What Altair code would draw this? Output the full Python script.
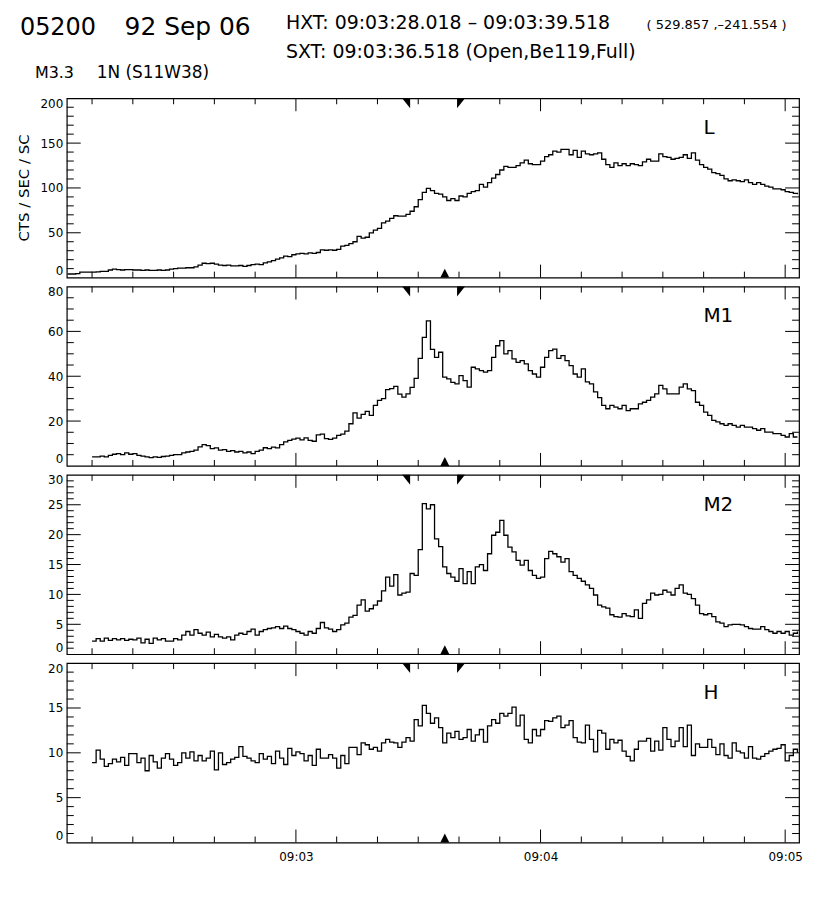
import altair as alt
import pandas as pd

# ---------------- data (seconds after 09:02:00, 1 s bins) ----------------
START_L = 4
START = 10

L_COUNTS = [
    4, 4, 4.5, 6, 6, 6, 6, 6.5, 7, 7,
    8.5, 9.4, 9, 8.5, 9, 9, 8.5, 8.5, 8, 8.5,
    8, 8, 8.5, 8, 8.5, 9.5, 10, 10.5, 10.5, 11,
    11, 12, 14, 16, 15.5, 16, 15, 14, 13.5, 14,
    13, 13, 13.5, 12.5, 13.5, 14.5, 15, 14.5, 16.5, 17.5,
    19, 20.5, 22, 24, 23.5, 25.5, 26.5, 27, 26.5, 27.5,
    27, 28, 31, 30.5, 31, 30.5, 31.5, 35, 36, 38,
    40, 46, 44, 45, 50, 53, 55, 61, 63, 66,
    69, 68.5, 68.5, 70.5, 74, 79, 87, 95, 99.5, 97,
    94, 93, 90, 86, 88, 86, 91, 90, 94, 96,
    97, 104, 101, 106, 111, 115, 120, 124, 123, 123,
    125, 128, 131, 127, 126, 126, 130, 135, 137, 141,
    140, 143, 143, 137, 142, 134, 141, 138, 137, 138,
    139, 132, 126, 123, 128, 125, 127, 125, 127, 126,
    125, 129, 132, 130, 130, 138, 135, 134, 132, 133,
    134, 137, 133, 139, 131, 126, 123, 121, 117, 116,
    114, 110, 108, 109, 108, 107, 109, 106, 104, 106,
    104, 102, 101, 99, 99, 98, 96, 95, 94, 93,
]

M1_COUNTS = [
    4.0, 4.0, 4.4, 4.0, 4.7, 5.2, 5.5, 5.0, 5.8, 5.2,
    5.5, 4.7, 4.4, 4.0, 3.7, 4.0, 3.8, 4.2, 4.4, 4.7,
    5.0, 5.0, 5.8, 6.2, 6.5, 7.0, 8.5, 9.5, 9.0, 7.7,
    8.0, 7.0, 7.3, 6.5, 6.8, 6.2, 6.5, 5.8, 6.2, 5.5,
    6.5, 7.0, 8.1, 7.7, 8.4, 8.0, 9.5, 10.7, 11.4, 11.9,
    12.4, 11.6, 12.5, 11.4, 11.0, 13.8, 14.2, 12.2, 11.8, 12.4,
    13.6, 14.2, 15.5, 18.8, 23.7, 21.3, 23.0, 24.3, 22.5, 27.0,
    29.2, 30.0, 34.0, 34.5, 35.5, 32.0, 30.7, 32.1, 35.0, 39.0,
    48.0, 57.3, 64.7, 52.0, 48.4, 50.7, 39.6, 38.8, 37.3, 36.6,
    40.3, 38.0, 35.1, 44.0, 43.3, 42.5, 41.8, 42.5, 48.4, 53.6,
    55.9, 50.0, 51.4, 47.7, 46.2, 47.0, 45.5, 42.5, 41.0, 39.6,
    44.0, 48.4, 51.4, 52.1, 48.0, 49.2, 47.0, 44.7, 41.0, 39.6,
    43.3, 37.5, 36.6, 33.0, 30.5, 27.0, 25.5, 27.0, 26.2, 25.5,
    27.0, 24.7, 25.5, 25.5, 27.7, 28.4, 29.2, 30.7, 32.1, 35.9,
    34.4, 32.1, 32.1, 32.1, 35.1, 36.6, 34.4, 33.6, 28.4, 27.0,
    24.0, 22.5, 20.3, 19.6, 18.8, 18.1, 18.8, 18.1, 17.3, 18.1,
    17.3, 17.3, 16.6, 15.9, 16.6, 15.1, 15.1, 14.4, 14.4, 13.6,
    12.9, 14.4, 12.9, 12.9,
]

M2_COUNTS = [
    2.2, 2.6, 2.2, 2.7, 2.3, 2.6, 2.4, 2.6, 2.3, 2.5,
    2.4, 2.7, 1.9, 2.5, 1.8, 2.7, 2.4, 2.6, 2.2, 2.2,
    2.6, 2.4, 3.2, 3.8, 3.2, 4.1, 3.5, 3.2, 3.7, 2.9,
    3.3, 2.9, 2.7, 2.9, 2.4, 3.2, 3.5, 3.3, 3.8, 4.2,
    3.2, 3.8, 4.1, 4.3, 4.4, 4.6, 4.3, 4.7, 4.3, 4.1,
    3.8, 3.5, 3.2, 3.8, 3.5, 4.3, 5.3, 4.4, 4.2, 3.8,
    4.1, 4.9, 5.2, 6.2, 6.5, 8.2, 9.1, 7.2, 7.6, 8.2,
    8.9, 10.6, 12.9, 11.4, 13.3, 9.9, 10.2, 10.4, 13.5, 13.2,
    17.5, 25.2, 24.3, 25.0, 19.3, 18.0, 14.6, 13.5, 12.9, 12.2,
    14.3, 11.8, 13.8, 11.8, 14.6, 15.0, 14.0, 16.8, 19.9, 20.4,
    22.4, 19.9, 17.9, 17.1, 15.7, 14.9, 15.7, 14.0, 13.2, 12.7,
    12.9, 16.0, 17.2, 16.8, 16.3, 15.4, 16.0, 13.8, 13.2, 12.7,
    12.2, 11.6, 11.0, 9.9, 8.2, 7.9, 7.7, 6.6, 6.3, 6.2,
    6.8, 6.4, 6.3, 7.4, 6.0, 8.5, 9.1, 10.2, 9.9, 10.0,
    10.7, 10.4, 9.9, 11.0, 11.6, 10.2, 10.0, 9.3, 8.2, 6.8,
    6.6, 6.8, 6.3, 5.4, 5.2, 4.6, 4.9, 5.0, 5.0, 4.9,
    4.6, 4.3, 4.2, 4.2, 4.6, 4.1, 3.8, 3.5, 3.8, 3.5,
    3.8, 3.2, 3.5, 3.8,
]

H_COUNTS = [
    8.9, 10.3, 9.3, 8.5, 8.8, 9.3, 9.0, 9.5, 8.6, 9.9,
    9.9, 8.9, 9.4, 8.0, 9.7, 9.0, 8.3, 9.4, 9.9, 9.3,
    8.6, 8.9, 10.0, 9.4, 10.1, 9.1, 9.7, 9.1, 9.4, 10.2,
    8.1, 10.0, 8.7, 8.9, 9.3, 9.5, 10.7, 9.6, 9.4, 9.1,
    8.9, 9.9, 9.3, 9.6, 8.8, 10.2, 9.4, 8.7, 10.5, 9.7,
    10.1, 9.9, 9.1, 9.7, 8.6, 10.4, 9.4, 9.4, 9.8, 9.4,
    8.3, 9.7, 8.8, 10.6, 10.6, 9.8, 11.1, 10.9, 10.4, 10.6,
    10.2, 11.1, 11.5, 11.2, 11.1, 10.6, 11.2, 11.7, 11.3, 13.7,
    13.0, 15.3, 14.4, 13.3, 13.9, 12.8, 11.1, 12.2, 11.7, 12.4,
    11.5, 11.7, 12.6, 11.3, 12.0, 12.6, 11.2, 13.0, 13.7, 13.3,
    14.4, 14.1, 14.4, 15.1, 13.0, 14.2, 11.5, 11.1, 12.6, 11.9,
    12.6, 13.6, 13.5, 13.9, 14.1, 12.8, 13.1, 13.6, 11.7, 11.2,
    11.1, 13.1, 11.5, 10.1, 12.5, 12.2, 10.4, 11.5, 11.1, 11.4,
    10.2, 9.6, 9.1, 10.4, 11.3, 11.3, 11.6, 10.2, 11.3, 10.3,
    12.8, 11.5, 10.7, 11.3, 12.8, 10.7, 13.1, 9.7, 11.0, 10.6,
    10.6, 11.5, 10.6, 9.8, 11.0, 9.7, 9.4, 11.1, 10.2, 10.0,
    9.4, 10.7, 9.4, 9.3, 9.6, 9.9, 10.2, 10.4, 10.5, 10.9,
    9.1, 9.7, 10.4, 10.0,
]

PANEL_NAMES = ["L", "M1", "M2", "H"]
Y_MAX = [200, 80, 30, 20]
Y_MAJOR = [50, 20, 5, 5]
Y_MINOR = [10, 5, 1, 1]

X_DOMAIN = [3.8, 183.4]
MAJOR_X = [60, 120, 180]
MINOR_X = [v for v in range(10, 181, 10) if v not in MAJOR_X]
X_LABELS = ["09:03", "09:04", "09:05"]

HXT_START = 88.018
HXT_END = 99.518
SXT_TIME = 96.518

HEADER_ID = "05200"
HEADER_DATE = "92 Sep 06"
HEADER_HXT = "HXT: 09:03:28.018 \u2013 09:03:39.518"
HEADER_POS = "( 529.857 ,\u2013241.554 )"
HEADER_SXT = "SXT: 09:03:36.518 (Open,Be119,Full)"
HEADER_CLASS = "M3.3"
HEADER_REGION = "1N (S11W38)"
Y_TITLE = "CTS / SEC / SC"

# ---------------- styling ----------------
FONT = "DejaVu Sans"
W, H = 735, 180

label_expr = "''"
for v, lab in reversed(list(zip(MAJOR_X, X_LABELS))):
    label_expr = f"datum.value == {v} ? '{lab}' : {label_expr}"


def text_layer(txt, x, y, size, align="left", angle=0):
    return alt.Chart(pd.DataFrame({"txt": [txt]})).mark_text(
        align=align, baseline="alphabetic" if angle == 0 else "middle",
        font=FONT, fontSize=size, color="black", angle=angle
    ).encode(text="txt:N", x=alt.value(x), y=alt.value(y))


def panel(idx, start, values, bottom=False, extra=()):
    ymax, ymaj, ymin = Y_MAX[idx], Y_MAJOR[idx], Y_MINOR[idx]
    xs = alt.Scale(domain=X_DOMAIN, nice=False, zero=False)
    ys = alt.Scale(domain=[0, ymax], nice=False)
    if bottom:
        xa = alt.Axis(values=MAJOR_X, labelExpr=label_expr, ticks=False, domain=False,
                      grid=False, title=None, labelFont=FONT, labelFontSize=12,
                      labelPadding=9, labelFlush=False, labelColor="black")
    else:
        xa = None
    ya = alt.Axis(values=list(range(0, ymax + 1, ymaj)), ticks=False, domain=False,
                  grid=False, title=None, labelFont=FONT, labelFontSize=12,
                  labelPadding=4, labelColor="black", labelOverlap=False,
                  labelFlush=True)

    def X(f):
        return alt.X(f"{f}:Q", scale=xs, axis=xa)

    def Y(f):
        return alt.Y(f"{f}:Q", scale=ys, axis=ya)

    df = pd.DataFrame({"t": [start + i for i in range(len(values))], "v": values})
    line = alt.Chart(df).mark_line(interpolate="step-after", color="black",
                                   strokeWidth=1.3).encode(x=X("t"), y=Y("v"))

    ymaj_df = pd.DataFrame({"v": list(range(ymaj, ymax, ymaj))})
    ymin_df = pd.DataFrame({"v": [v for v in range(ymin, ymax, ymin) if v % ymaj]})
    xmaj_df = pd.DataFrame({"t": MAJOR_X})
    xmin_df = pd.DataFrame({"t": MINOR_X})

    def rule(df):
        return alt.Chart(df).mark_rule(color="black", strokeWidth=1)

    layers = [
        rule(ymaj_df).encode(y=Y("v"), x=alt.value(0), x2=alt.value(14)),
        rule(ymaj_df).encode(y=Y("v"), x=alt.value(W - 14), x2=alt.value(W)),
        rule(ymin_df).encode(y=Y("v"), x=alt.value(0), x2=alt.value(7)),
        rule(ymin_df).encode(y=Y("v"), x=alt.value(W - 7), x2=alt.value(W)),
        rule(xmaj_df).encode(x=X("t"), y=alt.value(0), y2=alt.value(13)),
        rule(xmaj_df).encode(x=X("t"), y=alt.value(H - 13), y2=alt.value(H)),
        rule(xmin_df).encode(x=X("t"), y=alt.value(0), y2=alt.value(6)),
        rule(xmin_df).encode(x=X("t"), y=alt.value(H - 6), y2=alt.value(H)),
    ]

    def tri(t, shape, y):
        return alt.Chart(pd.DataFrame({"t": [t]})).mark_point(
            shape=shape, filled=True, color="black", size=100, opacity=1, strokeWidth=0
        ).encode(x=X("t"), y=alt.value(y))

    layers += [
        tri(HXT_START, "M -1.6 -1 L 0 -1 L 0 1 Z", 5),
        tri(HXT_END, "M 0 -1 L 1.6 -1 L 0 1 Z", 5),
        tri(SXT_TIME, "M -0.9 0.8 L 0.9 0.8 L 0 -1 Z", H - 4),
        text_layer(PANEL_NAMES[idx], 639, 36, 20),
    ]
    layers += list(extra)
    return alt.layer(line, *layers).properties(width=W, height=H)


header = [
    text_layer(HEADER_ID, -47, -63.5, 24),
    text_layer(HEADER_DATE, 58, -63.5, 25),
    text_layer(HEADER_HXT, 220, -69.5, 19),
    text_layer(HEADER_POS, 582, -69.5, 13),
    text_layer(HEADER_SXT, 220, -40.5, 19),
    text_layer(HEADER_CLASS, -32, -20.5, 16),
    text_layer(HEADER_REGION, 30, -20.5, 17),
    text_layer(Y_TITLE, -43, 90, 15, align="center", angle=270),
]

p1 = panel(0, START_L, L_COUNTS, extra=header)
p2 = panel(1, START, M1_COUNTS)
p3 = panel(2, START, M2_COUNTS)
p4 = panel(3, START, H_COUNTS, bottom=True)

chart = alt.vconcat(p1, p2, p3, p4, spacing=9, bounds="flush").configure_view(
    stroke="black", strokeWidth=1.2
).properties(
    padding={"left": 8, "top": 3, "right": 5, "bottom": 5},
    background="white",
)

chart.save("out.html", embed_options={"renderer": "svg", "actions": False})
